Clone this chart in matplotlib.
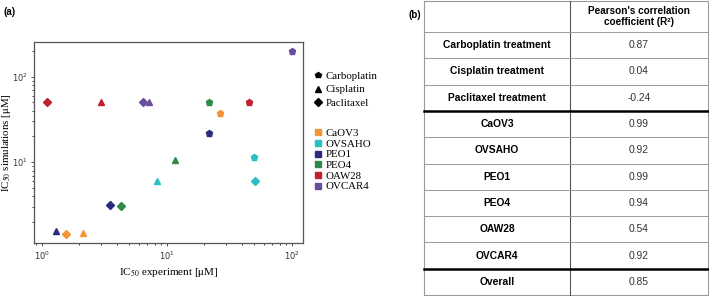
import numpy as np
import matplotlib
matplotlib.use('Agg')
import matplotlib.pyplot as plt
from matplotlib.lines import Line2D

plt.rcParams['mathtext.fontset'] = 'stix'

# dane z wykresu (a)
cell_lines = ['CaOV3', 'OVSAHO', 'PEO1', 'PEO4', 'OAW28', 'OVCAR4']
line_colors = ['#f39435', '#2bbfc4', '#2b2b7e', '#2f8a48', '#c1202f', '#6a4e9e']
drugs = ['Carboplatin', 'Cisplatin', 'Paclitaxel']
drug_markers = ['p', '^', 'D']

# IC50 eksperyment / symulacja, kolejnosc jak cell_lines
carbo_exp = [26.5, 49.7, 21.9, 21.9, 45.8, 100.0]
carbo_sim = [37.3, 11.4, 21.8, 50.0, 50.0, 198.0]
cis_exp = [2.13, 8.42, 1.30, 11.7, 2.98, 7.27]
cis_sim = [1.51, 6.06, 1.58, 10.7, 50.0, 50.0]
pacli_exp = [1.57, 50.4, 3.5, 4.34, 1.10, 6.5]
pacli_sim = [1.46, 6.0, 3.2, 3.12, 50.0, 50.0]

# dane tabeli (b)
table_labels = ['Carboplatin treatment', 'Cisplatin treatment', 'Paclitaxel treatment',
                'CaOV3', 'OVSAHO', 'PEO1', 'PEO4', 'OAW28', 'OVCAR4', 'Overall']
table_values = ['0.87', '0.04', '-0.24', '0.99', '0.92', '0.99', '0.94', '0.54', '0.92', '0.85']
header = "Pearson's correlation\ncoefficient (R²)"

W, H = 709, 296
fig = plt.figure(figsize=(W / 100, H / 100), dpi=100)

ax = fig.add_axes([34 / W, 1 - 243 / H, (303 - 34) / W, (243 - 42) / H])
series = [(carbo_exp, carbo_sim), (cis_exp, cis_sim), (pacli_exp, pacli_sim)]
for (xs, ys), m in zip(series, drug_markers):
    for i in range(len(cell_lines)):
        ms = 4.2 if m == 'D' else 4.8
        ax.plot(xs[i], ys[i], marker=m, color=line_colors[i], ms=ms, ls='none')

ax.set_xscale('log')
ax.set_yscale('log')
ax.set_xlim(0.867, 123)
ax.set_ylim(1.14, 254)
ax.tick_params(labelsize=6, length=2.5, width=0.6, pad=2, colors='#333333')
ax.tick_params(which='minor', length=1.5, width=0.5)
for s in ax.spines.values():
    s.set_color('#555555')
    s.set_linewidth(0.9)
ax.set_xlabel(r'IC$_{50}$ experiment [$\mathrm{\mu}$M]', family='Liberation Serif', fontsize=8, labelpad=3)
ax.set_ylabel(r'IC$_{50}$ simulations [$\mathrm{\mu}$M]', family='Liberation Serif', fontsize=7.8)
ax.yaxis.set_label_coords(-0.078, 0.5)

fig.text(3 / W, 1 - 12 / H, '(a)', fontsize=7, fontweight='bold', va='center', family='Liberation Sans')

h1 = [Line2D([], [], marker=m, color='black', ls='none', ms=4) for m in drug_markers]
fig.legend(h1, drugs, loc='upper left', bbox_to_anchor=(309 / W, 1 - 66 / H),
           frameon=False, handlelength=0.6, handletextpad=0.4,
           labelspacing=0.35, borderpad=0, prop={'family': 'Liberation Serif', 'size': 7.8})
h2 = [Line2D([], [], marker='s', color=c, ls='none', ms=4) for c in line_colors]
fig.legend(h2, cell_lines, loc='upper left', bbox_to_anchor=(309 / W, 1 - 123 / H),
           frameon=False, handlelength=0.6, handletextpad=0.4,
           labelspacing=0.1, borderpad=0, prop={'family': 'Liberation Serif', 'size': 7.8})

# tabela (b)
x0, x1, xm = 424, 708, 570
tx = fig.add_axes([0, 0, 1, 1])
tx.set_xlim(0, W)
tx.set_ylim(H, 0)
tx.axis('off')
row_h = 26.3
top = 1
hdr_bot = H - 1 - row_h * len(table_labels)
edges = [hdr_bot + row_h * k for k in range(len(table_labels) + 1)]
grey = '#9a9a9a'
tx.plot([x0, x1, x1, x0, x0], [top, top, H - 1, H - 1, top], color=grey, lw=0.8)
tx.plot([xm, xm], [top, H - 1], color='#555555', lw=0.8)
for k, y in enumerate(edges[:-1]):
    thick = k in (3, 9)
    tx.plot([x0, x1], [y, y], color='black' if thick else grey, lw=1.8 if thick else 0.7)
tx.text((xm + x1) / 2, (top + hdr_bot) / 2, header, ha='center', va='center',
        fontsize=7.2, fontweight='bold', family='Liberation Sans', linespacing=1.2)
for k, (lab, val) in enumerate(zip(table_labels, table_values)):
    yc = (edges[k] + edges[k + 1]) / 2
    tx.text((x0 + xm) / 2, yc, lab, ha='center', va='center', fontsize=7.4,
            fontweight='bold', family='Liberation Sans')
    tx.text((xm + x1) / 2, yc, val, ha='center', va='center', fontsize=7.4,
            family='Liberation Sans', color='#333333')
fig.text(421 / W, 1 - 15 / H, '(b)', fontsize=7, fontweight='bold', ha='right', va='center',
         family='Liberation Sans')

fig.savefig('out.png', dpi=100)
